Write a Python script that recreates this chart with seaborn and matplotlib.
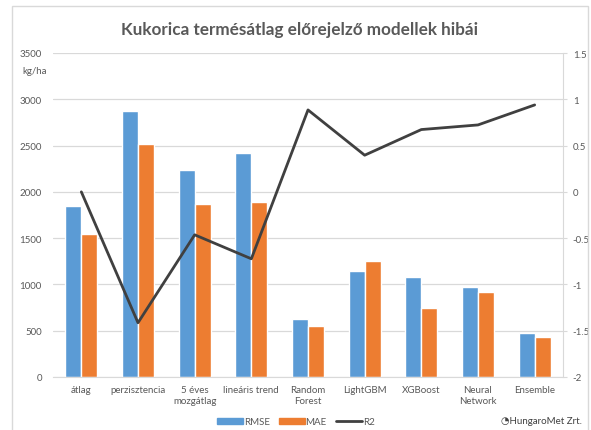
import seaborn as sns
import matplotlib.pyplot as plt
import pandas as pd
from matplotlib.patches import Rectangle
from matplotlib.lines import Line2D

# Models and their errors (kg/ha), R2 on the right axis
models = ["átlag", "perzisztencia", "5 éves\nmozgátlag", "lineáris trend",
          "Random\nForest", "LightGBM", "XGBoost", "Neural\nNetwork", "Ensemble"]
rmse = [1850, 2870, 2234, 2421, 626, 1140, 1075, 967, 475]
mae = [1550, 2521, 1867, 1888, 550, 1255, 748, 920, 427]
r2 = [0.0, -1.414, -0.464, -0.723, 0.885, 0.396, 0.673, 0.723, 0.939]

if __name__ == "__main__":
    sns.set_style("white")
    plt.rcParams["font.family"] = ["Lato", "DejaVu Sans"]

    df = pd.DataFrame({"Modell": models * 2,
                       "Hiba": rmse + mae,
                       "Metrika": ["RMSE"] * len(models) + ["MAE"] * len(models)})

    fig = plt.figure(figsize=(5.91, 4.31), dpi=100)
    ax = fig.add_axes([53 / 591, 1 - 378 / 431, 510 / 591, 324 / 431])

    sns.barplot(data=df, x="Modell", y="Hiba", hue="Metrika",
                palette=["#5B9BD5", "#ED7D31"], width=0.57, ax=ax,
                legend=False, saturation=1)
    ax.set_ylim(0, 3500)
    ax.set_yticks(range(0, 3501, 500))
    ax.set_xlim(-0.5, len(models) - 0.5)
    ax.set_xlabel("")
    ax.set_ylabel("")
    ax.yaxis.grid(True, color="#d9d9d9", linewidth=0.9)
    ax.set_axisbelow(True)
    for s in ["top", "left", "right"]:
        ax.spines[s].set_visible(False)
    ax.spines["bottom"].set_color("#d9d9d9")
    ax.tick_params(axis="both", length=0, labelsize=7, colors="#595959", pad=8)
    ax.tick_params(axis="x", pad=6)

    ax2 = ax.twinx()
    sns.lineplot(x=list(range(len(models))), y=r2, color="#404040",
                 linewidth=2, ax=ax2)
    ax2.set_ylim(-2, 1.5)
    ax2.set_yticks([-2, -1.5, -1, -0.5, 0, 0.5, 1, 1.5])
    ax2.set_yticklabels(["-2", "-1.5", "-1", "-0.5", "0", "0.5", "1", "1.5"])
    for s in ["top", "left", "bottom"]:
        ax2.spines[s].set_visible(False)
    ax2.spines["right"].set_color("#d9d9d9")
    ax2.tick_params(axis="y", length=3, width=0.8, labelsize=7, pad=4,
                    labelcolor="#595959", color="#d9d9d9")

    fig.text(35 / 591, 1 - 72 / 431, "kg/ha", fontsize=7, color="#595959",
             ha="center", va="center")

    fig.text(300 / 591, 1 - 30 / 431, "Kukorica termésátlag előrejelző modellek hibái",
             fontsize=12.3, fontweight="bold", color="#595959",
             ha="center", va="center")

    # chart frame
    fig.patches.append(Rectangle((12 / 591, -0.05), 576 / 591, 1 - 7 / 431 + 0.05,
                                 transform=fig.transFigure, fill=False,
                                 edgecolor="#d9d9d9", linewidth=1))

    handles = [Rectangle((0, 0), 1, 1, color="#5B9BD5"),
               Rectangle((0, 0), 1, 1, color="#ED7D31"),
               Line2D([0], [0], color="#404040", linewidth=2)]
    fig.legend(handles, ["RMSE", "MAE", "R2"], loc="center",
               bbox_to_anchor=(296 / 591, 1 - 423 / 431), ncol=3, frameon=False,
               fontsize=7, handlelength=2.6, handleheight=0.5,
               columnspacing=1.0, handletextpad=0.1, labelcolor="#595959")

    fig.text(541 / 591, 1 - 422 / 431, "◔HungaroMet Zrt.", fontsize=7,
             color="#404040", ha="center", va="center",
             family=["Lato", "DejaVu Sans"])

    fig.savefig("out.png", dpi=100)
